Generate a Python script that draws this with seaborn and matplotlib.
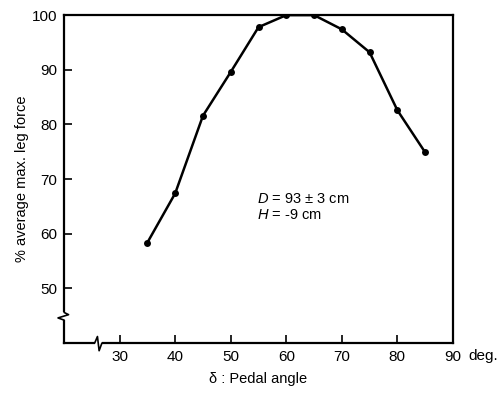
import seaborn as sns
import matplotlib.pyplot as plt
import pandas as pd

# pedal angle (deg) vs % of average max leg force
pedal_angle = [35, 40, 45, 50, 55, 60, 65, 70, 75, 80, 85]
leg_force = [58.4, 67.4, 81.6, 89.6, 97.8, 100, 100, 97.4, 93.2, 82.6, 74.9]

x_ticks = [30, 40, 50, 60, 70, 80, 90]
y_ticks = [50, 60, 70, 80, 90, 100]


def draw_chart():
    df = pd.DataFrame({'angle': pedal_angle, 'force': leg_force})

    sns.set_theme(style="ticks")
    plt.rcParams['font.family'] = ['Liberation Sans', 'DejaVu Sans']
    plt.rcParams['mathtext.fontset'] = 'custom'
    plt.rcParams['mathtext.it'] = 'Liberation Sans:italic'
    plt.rcParams['mathtext.rm'] = 'Liberation Sans'
    plt.rcParams['text.color'] = 'black'
    plt.rcParams['axes.labelcolor'] = 'black'

    fig = plt.figure(figsize=(5.01, 3.98), dpi=100)
    ax = fig.add_axes([0.128, 0.138, 0.776, 0.824])

    sns.lineplot(x='angle', y='force', data=df, ax=ax, color='black',
                 linewidth=1.8, marker='o', markersize=5, markeredgewidth=0)

    ax.set_xlim(20, 90)
    ax.set_ylim(40, 100)
    ax.set_xticks(x_ticks)
    ax.set_xticklabels([str(t) for t in x_ticks])
    ax.set_yticks(y_ticks)
    ax.set_yticklabels([str(t) for t in y_ticks])
    ax.tick_params(direction='in', length=6, width=1.2, labelsize=11,
                   colors='black', pad=5)
    for s in ax.spines.values():
        s.set_linewidth(1.6)
        s.set_color('black')

    ax.set_xlabel('δ : Pedal angle', fontsize=10.5, labelpad=6)
    ax.set_ylabel('% average max. leg force', fontsize=10.5, labelpad=2)

    # "deg." after the 90 label
    ax.annotate('deg.', xy=(90, 40), xytext=(11, -4.3), textcoords='offset points',
                fontsize=11, ha='left', va='top', annotation_clip=False)

    ax.text(54.8, 66.3, '$D$ = 93 ± 3 cm', fontsize=10.5, ha='left', va='center')
    ax.text(54.8, 63.5, '$H$ = -9 cm', fontsize=10.5, ha='left', va='center')

    # axis breaks
    bw = dict(color='white', linewidth=4, solid_capstyle='butt', clip_on=False,
              zorder=5)
    ax.plot([20, 20], [44.2, 45.6], **bw)
    ax.plot([25.5, 26.8], [40, 40], **bw)
    zz = dict(color='black', linewidth=1.2, clip_on=False, zorder=6)
    ax.plot([20, 18.9, 20.8, 20], [44.2, 44.6, 45.2, 45.6], **zz)
    ax.plot([25.5, 26.0, 26.3, 26.8], [40, 41.2, 38.6, 40], **zz)

    plt.savefig('out.png', dpi=100)
    plt.close()


if __name__ == '__main__':
    draw_chart()
